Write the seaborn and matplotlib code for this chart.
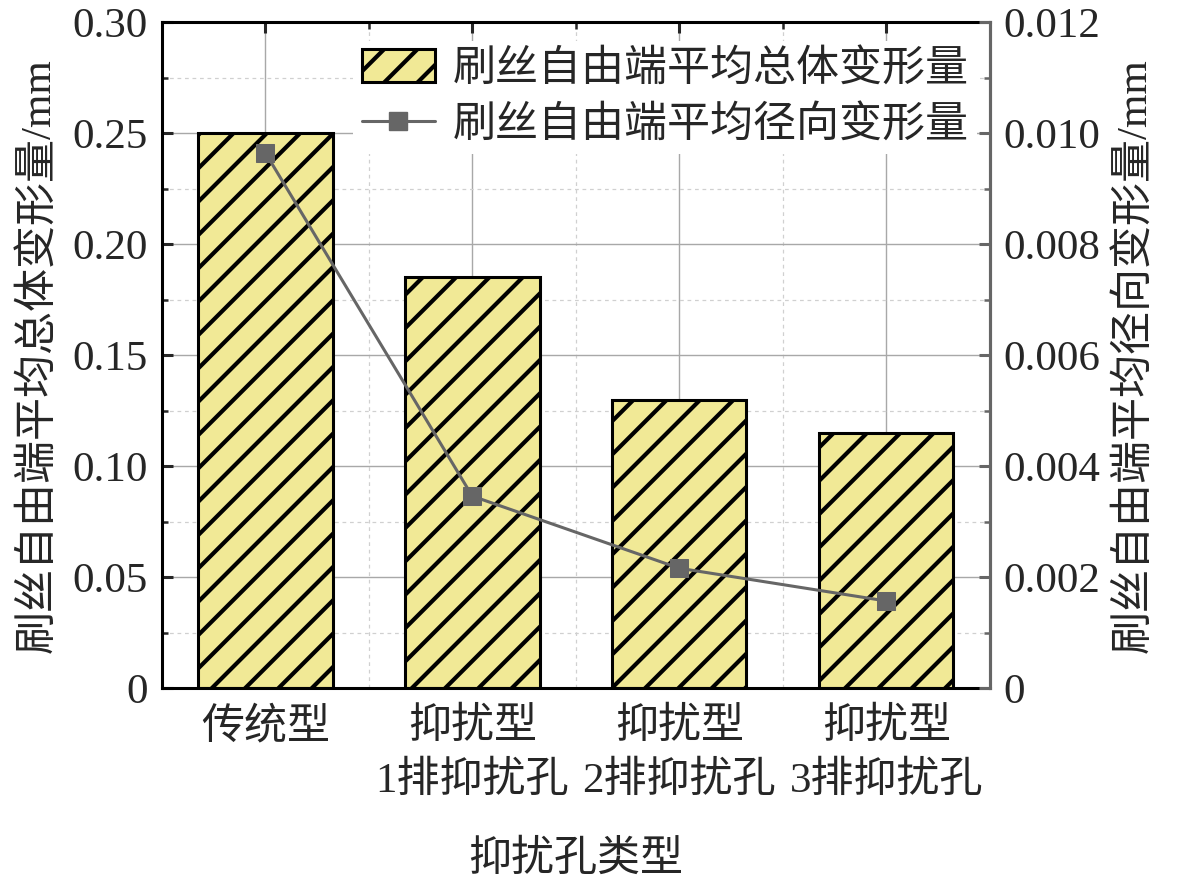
import numpy as np
import pandas as pd
import matplotlib
matplotlib.use('Agg')
import matplotlib.pyplot as plt
from matplotlib.ticker import MultipleLocator, FuncFormatter
from matplotlib.patches import Patch
from matplotlib.lines import Line2D
import seaborn as sns

# data
categories = ['传统型', '抑扰型\n1排抑扰孔', '抑扰型\n2排抑扰孔', '抑扰型\n3排抑扰孔']
total_deform = [0.250, 0.185, 0.130, 0.115]       # mm, left axis (bars)
radial_deform = [0.00965, 0.00346, 0.00216, 0.00157]  # mm, right axis (line)

bar_label = '刷丝自由端平均总体变形量'
line_label = '刷丝自由端平均径向变形量'

df = pd.DataFrame({'type': categories, 'total': total_deform, 'radial': radial_deform})

sns.set_style('white')
fonts = ['Liberation Serif', 'Noto Sans CJK SC', 'DejaVu Sans']
plt.rcParams['font.family'] = fonts
plt.rcParams['font.size'] = 31
plt.rcParams['hatch.linewidth'] = 3.0
plt.rcParams['axes.unicode_minus'] = False

fig = plt.figure(figsize=(11.81, 8.89), dpi=100)
ax = fig.add_axes([0.137, 0.226, 0.701, 0.749])

bar_color = '#F1E996'
sns.barplot(data=df, x='type', y='total', ax=ax, color=bar_color, width=0.65,
            edgecolor='black', linewidth=2.2, saturation=1, zorder=2)
for p in ax.patches:
    p.set_hatch('/')

ax.set_xlim(-0.5, 3.5)
ax.set_ylim(0, 0.30)
ax.yaxis.set_major_locator(MultipleLocator(0.05))
ax.yaxis.set_minor_locator(MultipleLocator(0.025))
ax.xaxis.set_minor_locator(MultipleLocator(0.5))
ax.yaxis.set_major_formatter(FuncFormatter(lambda v, p: '0' if abs(v) < 1e-9 else f'{v:.2f}'))
ax.grid(True, which='major', color='#a8a8a8', linewidth=1.0, linestyle='-', zorder=0)
ax.grid(True, which='minor', color='#d0d0d0', linewidth=0.9, linestyle=(0, (3, 3)), zorder=0)
ax.set_axisbelow(True)
ax.tick_params(which='major', direction='in', length=8, width=2.2, top=True, right=False, pad=10)
ax.tick_params(which='minor', direction='in', length=4, width=1.8, top=True, right=False)
ax.tick_params(axis='x', which='minor', length=5)
ax.tick_params(axis='x', which='major', pad=14)
ax.set_xticks(range(len(categories)))
ax.set_xticklabels(categories, linespacing=1.5, va='top')
for s in ax.spines.values():
    s.set_linewidth(2.2)
    s.set_color('black')
ax.set_xlabel('抑扰孔类型', labelpad=28)
ax.set_ylabel(bar_label + '/mm', labelpad=10)

ax2 = ax.twinx()
sns.lineplot(data=df, x='type', y='radial', ax=ax2, sort=False, color='#666666',
             linewidth=2.2, marker='s', markersize=13, markerfacecolor='#666666',
             markeredgecolor='#666666', zorder=3)
ax2.set_ylim(0, 0.012)
ax2.yaxis.set_major_locator(MultipleLocator(0.002))
ax2.yaxis.set_minor_locator(MultipleLocator(0.001))
ax2.yaxis.set_major_formatter(FuncFormatter(lambda v, p: '0' if abs(v) < 1e-12 else f'{v:.3f}'))
ax2.tick_params(which='major', direction='in', length=8, width=2.2, color='#666666', pad=10)
ax2.tick_params(which='minor', direction='in', length=4, width=1.8, color='#666666')
ax2.spines['right'].set_color('#666666')
ax2.spines['right'].set_linewidth(2.2)
for k in ['left', 'top', 'bottom']:
    ax2.spines[k].set_visible(False)
ax2.set_ylabel(line_label + '/mm', labelpad=10)
ax2.set_xlabel('')
ax2.grid(False)

handles = [Patch(facecolor=bar_color, edgecolor='black', hatch='/', linewidth=2.2),
           Line2D([], [], color='#666666', linewidth=2.2, marker='s', markersize=13)]
leg = ax2.legend(handles, [bar_label, line_label], loc='upper right',
                 bbox_to_anchor=(0.995, 0.985), frameon=True, facecolor='white',
                 edgecolor='none', framealpha=1, fancybox=False, handlelength=1.7,
                 handleheight=0.8, handletextpad=0.4, labelspacing=0.35,
                 borderpad=0.2, borderaxespad=0.2)

fig.savefig('out.png', dpi=100)
